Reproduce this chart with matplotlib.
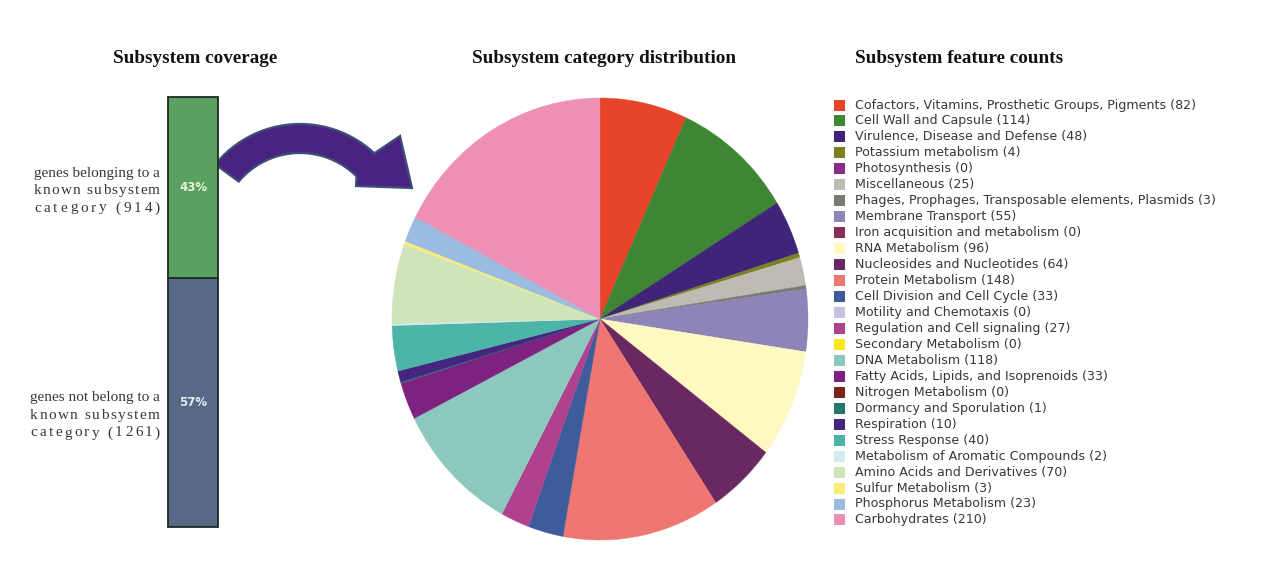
import matplotlib
matplotlib.use("Agg")
import matplotlib.pyplot as plt
from matplotlib.patches import Rectangle, Polygon
from matplotlib.font_manager import FontProperties, findfont, get_font
import numpy as np

W, H, DPI = 1262, 574, 100

# Subsystem categories with their feature counts and colours
categories = [
    "Cofactors, Vitamins, Prosthetic Groups, Pigments",
    "Cell Wall and Capsule",
    "Virulence, Disease and Defense",
    "Potassium metabolism",
    "Photosynthesis",
    "Miscellaneous",
    "Phages, Prophages, Transposable elements, Plasmids",
    "Membrane Transport",
    "Iron acquisition and metabolism",
    "RNA Metabolism",
    "Nucleosides and Nucleotides",
    "Protein Metabolism",
    "Cell Division and Cell Cycle",
    "Motility and Chemotaxis",
    "Regulation and Cell signaling",
    "Secondary Metabolism",
    "DNA Metabolism",
    "Fatty Acids, Lipids, and Isoprenoids",
    "Nitrogen Metabolism",
    "Dormancy and Sporulation",
    "Respiration",
    "Stress Response",
    "Metabolism of Aromatic Compounds",
    "Amino Acids and Derivatives",
    "Sulfur Metabolism",
    "Phosphorus Metabolism",
    "Carbohydrates",
]
counts = [82, 114, 48, 4, 0, 25, 3, 55, 0, 96, 64, 148, 33, 0, 27, 0,
          118, 33, 0, 1, 10, 40, 2, 70, 3, 23, 210]
colors = [
    "#E64329", "#3F8634", "#3F2479", "#7B8122", "#8A2A8A", "#BEBBB3",
    "#7A7A74", "#8D84B8", "#8B2D57", "#FFF8C0", "#6A2862", "#EE7871",
    "#3E5C9C", "#C5C1DE", "#B0418F", "#FFE61C", "#8CC8BE", "#7E2180",
    "#7D2418", "#22766A", "#44257F", "#4DB4A8", "#D3EAEC", "#CFE4B8",
    "#F8EC7C", "#9ABCE0", "#EE8FB6",
]

# Subsystem coverage (known vs not known)
coverage_counts = [914, 1261]
coverage_pct = ["43%", "57%"]
coverage_colors = ["#5BA05F", "#566A87"]
coverage_pct_colors = ["#E4F4DC", "#E6EAF0"]
coverage_labels = [
    ["genes belonging to a", "known subsystem", "category (914)"],
    ["genes not belong to a", "known subsystem", "category (1261)"],
]

titles = ["Subsystem coverage", "Subsystem category distribution",
          "Subsystem feature counts"]

fig = plt.figure(figsize=(W / DPI, H / DPI), dpi=DPI, facecolor="white")


def px_rect(left, top, right, bottom):
    return [left / W, 1 - bottom / H, (right - left) / W, (bottom - top) / H]


# Full-figure layer in pixel units for titles, labels, arrow and legend
over = fig.add_axes([0, 0, 1, 1])
over.set_xlim(0, W)
over.set_ylim(H, 0)
over.axis("off")

title_font = dict(family="Liberation Serif", weight="bold", size=13.8,
                  color="#111111", ha="center", va="center")
for x, t in zip([195, 604, 959], titles):
    over.text(x, 58.5, t, **title_font)

# ---- stacked coverage bar ----
axb = fig.add_axes(px_rect(168, 97, 218, 527))
known, unknown = coverage_counts
total = known + unknown
axb.bar(0, unknown, width=1, color=coverage_colors[1], edgecolor="#1e2a24",
        linewidth=1.3, clip_on=False)
axb.bar(0, known, bottom=unknown, width=1, color=coverage_colors[0],
        edgecolor="#1e2a24", linewidth=1.3, clip_on=False)
axb.set_xlim(-0.5, 0.5)
axb.set_ylim(0, total)
axb.axis("off")
axb.text(0, unknown + known / 2, coverage_pct[0], ha="center", va="center",
         fontsize=8.5, weight="bold", color=coverage_pct_colors[0])
axb.text(0, unknown / 2, coverage_pct[1], ha="center", va="center",
         fontsize=8.5, weight="bold", color=coverage_pct_colors[1])

# ---- justified serif labels left of the bar ----
renderer = fig.canvas.get_renderer()
serif = FontProperties(family="Liberation Serif", size=11)
ft = get_font(findfont(serif))
ft.set_size(11, DPI)


def advances(s):
    return [ft.load_char(ord(c)).linearHoriAdvance / 65536.0 for c in s]


def draw_block(lines, ys, right):
    w0 = renderer.get_text_width_height_descent(lines[0], serif, ismath=False)[0]
    left = right - w0
    over.text(right, ys[0], lines[0], fontproperties=serif, ha="right",
              va="center", color="#383838")
    for line, y in zip(lines[1:], ys[1:]):
        adv = advances(line)
        natural = sum(adv[:-1]) + renderer.get_text_width_height_descent(
            line[-1], serif, ismath=False)[0]
        extra = (w0 - natural) / (len(line) - 1)
        x = left
        for ch, a in zip(line, adv):
            if ch != " ":
                over.text(x, y, ch, fontproperties=serif, ha="left",
                          va="center", color="#383838")
            x += a + extra


draw_block(coverage_labels[0], [173, 190.5, 208], 160)
draw_block(coverage_labels[1], [398, 415.5, 433], 160)

# ---- curved arrow from the bar to the pie ----
cx, cy = 300, 233
outer_t = np.radians(np.linspace(141, 47, 60))
inner_t = np.radians(np.linspace(45, 140, 60))
pts = [(cx + 109 * np.cos(t), cy - 109 * np.sin(t)) for t in outer_t]
pts += [(400, 136), (412, 188), (356, 186)]
pts += [(cx + 80 * np.cos(t), cy - 80 * np.sin(t)) for t in inner_t]
over.add_patch(Polygon(pts, closed=True, facecolor="#4A2380",
                       edgecolor="#3C4F78", linewidth=1.6))

# ---- pie chart ----
axp = fig.add_axes(px_rect(392, 98, 808, 540))
wedges, _ = axp.pie(counts, colors=colors, startangle=90, counterclock=False,
                    radius=1, wedgeprops=dict(linewidth=0.3))
for w, c, col in zip(wedges, counts, colors):
    w.set_edgecolor(col)
    if c == 0:
        w.set_visible(False)
axp.set_aspect("auto")
axp.set_xlim(-1, 1)
axp.set_ylim(-1, 1)
axp.axis("off")

# ---- legend with counts ----
row0, step = 105, 15.96
for i, (name, n, col) in enumerate(zip(categories, counts, colors)):
    y = row0 + i * step
    over.add_patch(Rectangle((834, y - 5.5), 11, 11, facecolor=col,
                             edgecolor="none"))
    over.text(855, y, f"{name} ({n})", ha="left", va="center",
              fontsize=9.1, color="#383838", family="DejaVu Sans")

fig.savefig("out.png", dpi=DPI, facecolor="white")
